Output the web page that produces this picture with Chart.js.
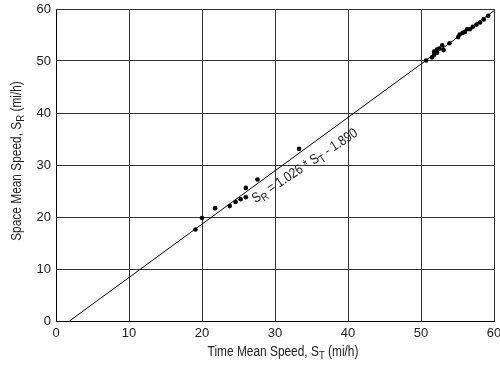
<!DOCTYPE html>
<html>
<head>
<meta charset="utf-8">
<script src="https://cdn.jsdelivr.net/npm/chart.js@4.4.0/dist/chart.umd.min.js"></script>
<style>
  html, body { margin: 0; padding: 0; background: #fff; }
  #wrap { width: 500px; height: 365px; }
</style>
</head>
<body>
<div id="wrap"><canvas id="chart" width="500" height="365"></canvas></div>
<script>
// observed speeds (mi/h)
const timeMeanSpeed = [
  19.1, 20.0, 21.8, 23.8, 24.6, 25.3, 26.0, 26.0, 27.6, 33.3,
  50.7, 51.5, 51.8, 51.8, 52.2, 52.2, 52.5, 52.9, 53.1, 53.9,
  55.1, 55.3, 55.7, 56.0, 56.3, 56.7, 57.1, 57.6, 58.1, 58.6, 59.2
];
const spaceMeanSpeed = [
  17.6, 19.8, 21.7, 22.1, 22.9, 23.4, 23.8, 25.6, 27.2, 33.1,
  50.1, 50.7, 51.2, 51.8, 51.6, 52.2, 52.4, 53.0, 52.1, 53.4,
  54.6, 55.1, 55.4, 55.6, 56.1, 56.1, 56.6, 57.0, 57.4, 58.0, 58.7
];
// regression S_R = 1.026 * S_T - 1.890
const slope = 1.026;
const intercept = -1.890;
const tickValues = [0, 10, 20, 30, 40, 50, 60];

const FONT = "'Liberation Sans Narrow', 'Arial Narrow', 'Liberation Sans', sans-serif";
const NARROW = 0.85; // squeeze, no narrow face installed

const points = timeMeanSpeed.map((x, i) => ({x: x, y: spaceMeanSpeed[i]}));
const fitLine = [
  {x: -intercept / slope, y: 0},
  {x: 60, y: slope * 60 + intercept}
];

// draw text with subscripts, centred on the origin
function drawRich(ctx, parts, size) {
  let total = 0;
  parts.forEach(p => {
    ctx.font = (p.sub ? size * 0.8 : size) + 'px ' + FONT;
    total += ctx.measureText(p.t).width;
  });
  ctx.scale(NARROW, 1);
  let x = -total / 2;
  parts.forEach(p => {
    ctx.font = (p.sub ? size * 0.8 : size) + 'px ' + FONT;
    ctx.fillText(p.t, x, p.sub ? size * 0.3 : 0);
    x += ctx.measureText(p.t).width;
  });
}

const labelsPlugin = {
  id: 'labels',
  afterDraw(chart) {
    const ctx = chart.ctx;
    const xs = chart.scales.x, ys = chart.scales.y;
    const area = chart.chartArea;
    ctx.save();
    ctx.fillStyle = '#222';
    ctx.textBaseline = 'middle';
    ctx.textAlign = 'left';

    // x axis title
    ctx.save();
    ctx.translate((area.left + area.right) / 2 + 8, 352);
    drawRich(ctx, [{t: 'Time Mean Speed, S'}, {t: 'T', sub: true}, {t: ' (mi/h)'}], 14);
    ctx.restore();

    // y axis title
    ctx.save();
    ctx.translate(17, (area.top + area.bottom) / 2 - 4);
    ctx.rotate(-Math.PI / 2);
    drawRich(ctx, [{t: 'Space Mean Speed, S'}, {t: 'R', sub: true}, {t: ' (mi/h)'}], 14);
    ctx.restore();

    // equation under the fitted line
    ctx.save();
    ctx.translate(xs.getPixelForValue(34.1), ys.getPixelForValue(29.8));
    ctx.rotate(-33.5 * Math.PI / 180);
    drawRich(ctx, [{t: 'S'}, {t: 'R', sub: true}, {t: ' = 1.026 * S'}, {t: 'T', sub: true}, {t: ' - 1.890'}], 14);
    ctx.restore();

    ctx.restore();
  }
};

new Chart(document.getElementById('chart'), {
  type: 'scatter',
  data: {
    datasets: [
      {
        data: points,
        pointRadius: 2.3,
        pointHoverRadius: 2.3,
        backgroundColor: '#000',
        borderWidth: 0
      },
      {
        type: 'line',
        data: fitLine,
        borderColor: '#000',
        borderWidth: 1,
        pointRadius: 0,
        fill: false
      }
    ]
  },
  options: {
    responsive: false,
    animation: false,
    layout: { padding: { top: 9, right: 6, left: 0, bottom: 0 } },
    plugins: { legend: { display: false }, tooltip: { enabled: false } },
    scales: {
      x: {
        type: 'linear',
        min: 0, max: 60,
        afterBuildTicks: s => { s.ticks = tickValues.map(v => ({value: v})); },
        afterFit: s => { s.height = 44; s.paddingLeft = 0; s.paddingRight = 0; },
        grid: { color: '#333', lineWidth: 1, tickLength: 0, drawTicks: false },
        border: { color: '#000', width: 1 },
        ticks: { color: '#222', font: { family: FONT, size: 13 }, padding: 5, maxRotation: 0 }
      },
      y: {
        type: 'linear',
        min: 0, max: 60,
        afterBuildTicks: s => { s.ticks = tickValues.map(v => ({value: v})); },
        afterFit: s => { s.width = 56; s.paddingTop = 0; s.paddingBottom = 0; },
        grid: { color: '#333', lineWidth: 1, tickLength: 0, drawTicks: false },
        border: { color: '#000', width: 1 },
        ticks: { color: '#222', font: { family: FONT, size: 13 }, padding: 5 }
      }
    }
  },
  plugins: [labelsPlugin]
});
</script>
</body>
</html>
